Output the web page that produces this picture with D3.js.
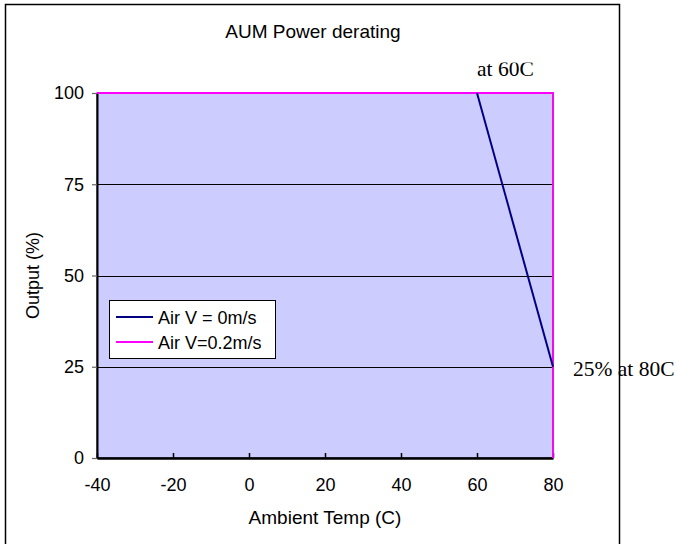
<!DOCTYPE html>
<html>
<head>
<meta charset="utf-8">
<script src="https://cdn.jsdelivr.net/npm/d3@7"></script>
<style>
  html, body { margin: 0; padding: 0; background: #fff; }
  svg { display: block; }
</style>
</head>
<body>
<svg id="chart" width="676" height="544"></svg>
<script>
// ---- data ----
const seriesNames = ["Air V = 0m/s", "Air V=0.2m/s"];
const tempsAir0 = [-40, 60, 80];
const outputAir0 = [100, 100, 25];
const tempsAir02 = [-40, 80, 80];
const outputAir02 = [100, 100, 0];
const xTickValues = [-40, -20, 0, 20, 40, 60, 80];
const yTickValues = [0, 25, 50, 75, 100];
const gridValues = [25, 50, 75];
const titleText = "AUM Power derating";
const xTitle = "Ambient Temp (C)";
const yTitle = "Output (%)";
const noteTop = "at 60C";
const noteBottom = "25% at 80C";

// ---- layout ----
const svg = d3.select("#chart");
const sans = "'Liberation Sans', Arial, sans-serif";
const serif = "'Liberation Serif', 'Times New Roman', serif";
const plot = { left: 97, right: 553, top: 93, bottom: 458 };

const x = d3.scaleLinear().domain([-40, 80]).range([plot.left, plot.right]);
const y = d3.scaleLinear().domain([0, 100]).range([plot.bottom, plot.top]);

// outer chart frame
svg.append("rect")
  .attr("x", 5.5).attr("y", 4.5)
  .attr("width", 614).attr("height", 560)
  .attr("fill", "#fff").attr("stroke", "#000").attr("stroke-width", 1.5);

// plot area
svg.append("rect")
  .attr("x", plot.left).attr("y", plot.top)
  .attr("width", plot.right - plot.left).attr("height", plot.bottom - plot.top)
  .attr("fill", "#CCCCFF").attr("stroke", "#000").attr("stroke-width", 1);

// gridlines
svg.append("g").selectAll("line").data(gridValues).join("line")
  .attr("x1", plot.left).attr("x2", plot.right)
  .attr("y1", d => Math.round(y(d)) + 0.5).attr("y2", d => Math.round(y(d)) + 0.5)
  .attr("stroke", "#000").attr("stroke-width", 1);

// y axis
const yAxis = d3.axisLeft(y).tickValues(yTickValues).tickFormat(d => String(d))
  .tickSize(5).tickPadding(8).tickSizeOuter(0);
const gy = svg.append("g").attr("transform", `translate(${plot.left},0)`).call(yAxis);
gy.select(".domain").attr("stroke", "#000").attr("stroke-width", 2);
gy.selectAll(".tick line").attr("stroke", "#666").attr("stroke-width", 1.2);
gy.selectAll(".tick text").attr("font-family", sans).attr("font-size", 18).attr("fill", "#000");

// x axis (ticks pointing inward)
const xAxis = d3.axisBottom(x).tickValues(xTickValues).tickFormat(d => String(d))
  .tickSize(-5).tickPadding(20).tickSizeOuter(0);
const gx = svg.append("g").attr("transform", `translate(0,${plot.bottom})`).call(xAxis);
gx.select(".domain").attr("stroke", "#000").attr("stroke-width", 2.5);
gx.selectAll(".tick line").attr("stroke", "#000").attr("stroke-width", 1.5);
gx.selectAll(".tick text").attr("font-family", sans).attr("font-size", 18).attr("fill", "#000");

// series
const line = d3.line().x(d => x(d[0])).y(d => y(d[1]));
const s02 = tempsAir02.map((t, i) => [t, outputAir02[i]]);
const s0 = tempsAir0.map((t, i) => [t, outputAir0[i]]);
svg.append("path").datum(s02).attr("d", line)
  .attr("fill", "none").attr("stroke", "#FF00FF").attr("stroke-width", 1.8);
svg.append("path").datum(s0.slice(1)).attr("d", line)
  .attr("fill", "none").attr("stroke", "#000080").attr("stroke-width", 2);

// titles
svg.append("text").attr("x", 313).attr("y", 38).attr("text-anchor", "middle")
  .attr("font-family", sans).attr("font-size", 19).text(titleText);
svg.append("text").attr("x", (plot.left + plot.right) / 2).attr("y", 524).attr("text-anchor", "middle")
  .attr("font-family", sans).attr("font-size", 19).text(xTitle);
svg.append("text").attr("transform", `translate(39,${(plot.top + plot.bottom) / 2}) rotate(-90)`)
  .attr("text-anchor", "middle")
  .attr("font-family", sans).attr("font-size", 18).text(yTitle);

// annotations
svg.append("clipPath").attr("id", "clipTop").append("rect")
  .attr("x", 0).attr("y", 62.5).attr("width", 676).attr("height", 40);
svg.append("text").attr("x", 477).attr("y", 76).attr("clip-path", "url(#clipTop)")
  .attr("font-family", serif).attr("font-size", 21.5).text(noteTop);
svg.append("text").attr("x", 573).attr("y", 376)
  .attr("font-family", serif).attr("font-size", 21.5).text(noteBottom);

// legend
const lg = svg.append("g").attr("transform", "translate(109,300)");
lg.append("rect").attr("x", 0.5).attr("y", 0.5).attr("width", 166).attr("height", 58)
  .attr("fill", "#fff").attr("stroke", "#000").attr("stroke-width", 1);
const colors = ["#000080", "#FF00FF"];
seriesNames.forEach((name, i) => {
  const yy = 17 + i * 25;
  lg.append("line").attr("x1", 7).attr("x2", 44).attr("y1", yy).attr("y2", yy)
    .attr("stroke", colors[i]).attr("stroke-width", 2);
  lg.append("text").attr("x", 49).attr("y", yy + 6.5)
    .attr("font-family", sans).attr("font-size", 18).text(name);
});
</script>
</body>
</html>
